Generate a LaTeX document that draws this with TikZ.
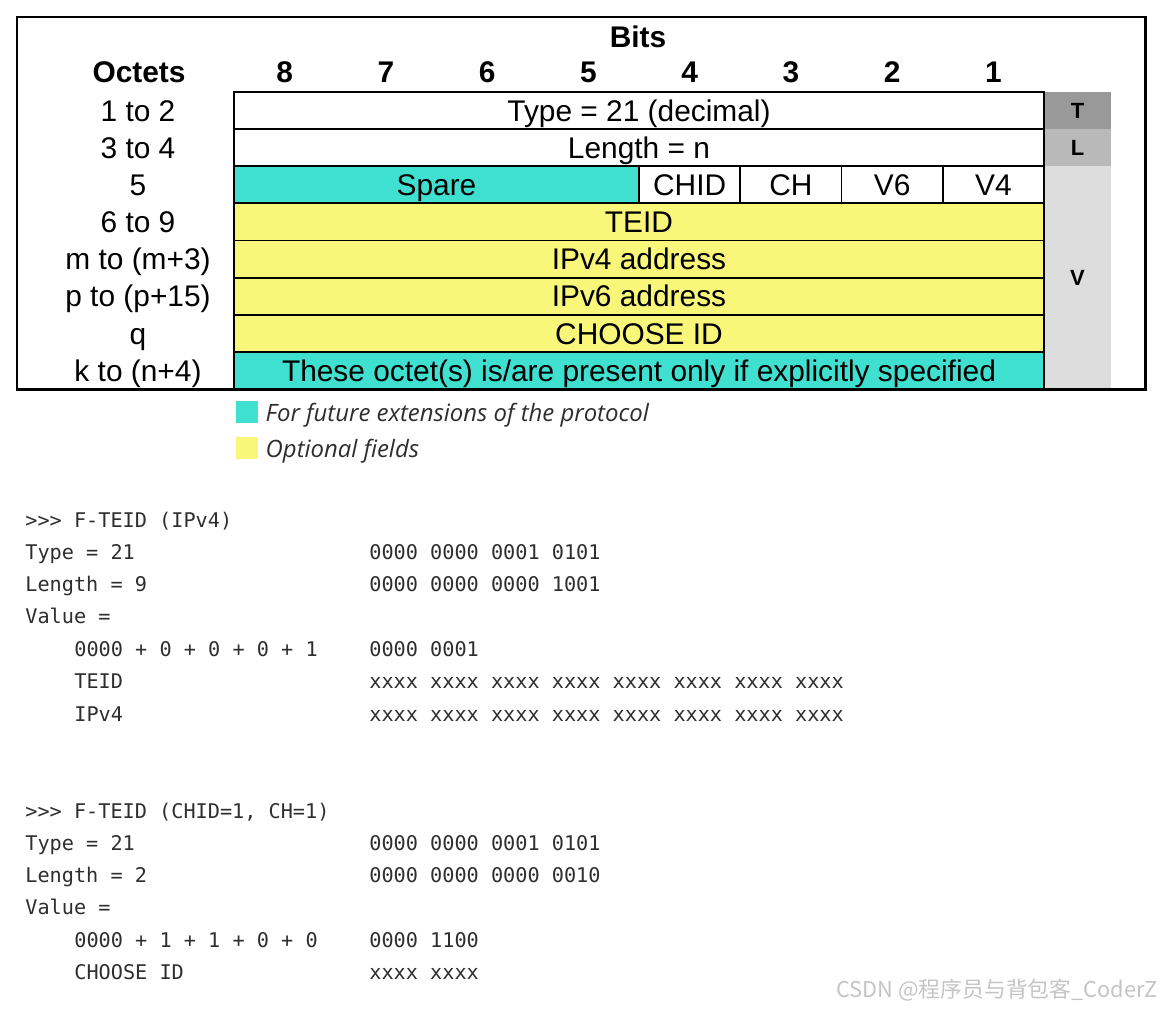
\documentclass[tikz,border=0pt]{standalone}
\usepackage{fontspec}
\setmainfont{Liberation Sans}
\setmonofont{DejaVu Sans Mono}
\newfontfamily\notefont{Open Sans}
\newfontfamily\cjkfont{Noto Sans CJK SC}
\usepackage{xcolor}
\definecolor{Spare}{HTML}{40E0D0}
\definecolor{Opt}{HTML}{F9F77A}
\definecolor{TagT}{HTML}{999999}
\definecolor{TagL}{HTML}{B9B9B9}
\definecolor{TagV}{HTML}{DDDDDD}
\definecolor{Code}{HTML}{2E2E2E}
\definecolor{Mark}{HTML}{C4C4C4}
\usetikzlibrary{positioning}
\tikzset{
  field/.style={draw,line width=1.1pt,minimum height=7.425mm,inner sep=0pt,outer sep=0pt,
    font=\fontsize{17}{20}\selectfont,text height=12.2pt,text depth=0pt},
  wide/.style={field,minimum width=162mm},
  bitcell/.style={field,minimum width=20.25mm},
  head/.style={font=\fontsize{17}{20}\selectfont\bfseries,inner sep=0pt,text height=12.2pt,text depth=0pt},
  octet/.style={font=\fontsize{17}{20}\selectfont,inner sep=0pt,text height=12.2pt,text depth=0pt},
  tag/.style={minimum width=13.4mm,minimum height=7.425mm,inner sep=0pt,font=\fontsize{12.5}{14}\selectfont\bfseries},
  swatch/.style={minimum size=4.4mm,inner sep=0pt},
  legend/.style={font=\notefont\itshape\fontsize{13.6}{16}\selectfont,text=Code,inner sep=0pt,yshift=-0.7mm},
  code/.style={font=\ttfamily\fontsize{11.5}{14}\selectfont,text=Code,inner sep=0pt,anchor=base west}
}
\begin{document}
\begin{tikzpicture}
  \useasboundingbox (0,0) rectangle (23.24,-20.2);
  \node[head] (bits) at (12.76,-0.74) {Bits};
  \node[head] (octets) at (2.78,-1.44) {Octets};
  \foreach \b [count=\k from 0] in {8,7,...,1}
    \node[head] (bit\b) at ({4.68+2.025*(\k+0.5)},-1.44) {\b};
  \foreach \lab [count=\i from 0] in {{1 to 2},{3 to 4},{5},{6 to 9},{m to (m+3)},{p to (p+15)},{q},{k to (n+4)}}
    \node[octet] (oct\i) at (2.76,{-1.84-0.7425*(\i+0.5)}) {\lab};
  \node[tag, fill=TagT] (tagT) at (21.55,-2.211) {T};
  \node[tag, fill=TagL] (tagL) at (21.55,-2.954) {L};
  \node[tag, fill=TagV, minimum height=44.55mm] (tagV) at (21.55,-5.5525) {V};
  \node[wide] (type) at (12.78,-2.211) {Type = 21 (decimal)};
  \node[wide, below=0pt of type] (length) {Length = n};
  \node[field, fill=Spare, minimum width=81mm, below=0pt of length.south west, anchor=north west] (spare) {Spare};
  \node[bitcell, right=0pt of spare] (chid) {CHID};
  \node[bitcell, right=0pt of chid] (ch) {CH};
  \node[bitcell, right=0pt of ch] (vsix) {V6};
  \node[bitcell, right=0pt of vsix] (vfour) {V4};
  \node[wide, fill=Opt, below=0pt of spare.south west, anchor=north west] (teid) {TEID};
  \node[wide, fill=Opt, below=0pt of teid] (ipv4) {IPv4 address};
  \node[wide, fill=Opt, below=0pt of ipv4] (ipv6) {IPv6 address};
  \node[wide, fill=Opt, below=0pt of ipv6] (choose) {CHOOSE ID};
  \node[wide, fill=Spare, below=0pt of choose] (present) {These octet(s) is/are present only if explicitly specified};
  \draw[line width=1.7pt] (0.34,-0.34) rectangle (22.9,-7.78);
  \node[swatch, fill=Spare] (swspare) at (4.94,-8.24) {};
  \node[legend, right=1.4mm of swspare] (lgspare) {For future extensions of the protocol};
  \node[swatch, fill=Opt] (swopt) at (4.94,-8.96) {};
  \node[legend, right=1.4mm of swopt] (lgopt) {Optional fields};
  \node[code] (hdrA) at (0.5,-10.54) {>>> F-TEID (IPv4)};
  \node[code] (typeA) at (0.5,-11.18) {Type = 21};
  \node[code] (typeAbits) at (7.38,-11.18) {0000 0000 0001 0101};
  \node[code] (lenA) at (0.5,-11.82) {Length = 9};
  \node[code] (lenAbits) at (7.38,-11.82) {0000 0000 0000 1001};
  \node[code] (valA) at (0.5,-12.46) {Value =};
  \node[code] (flagA) at (1.48,-13.12) {0000 + 0 + 0 + 0 + 1};
  \node[code] (flagAbits) at (7.38,-13.12) {0000 0001};
  \node[code] (teidA) at (1.48,-13.76) {TEID};
  \node[code] (teidAbits) at (7.38,-13.76) {xxxx xxxx xxxx xxxx xxxx xxxx xxxx xxxx};
  \node[code] (ipA) at (1.48,-14.42) {IPv4};
  \node[code] (ipAbits) at (7.38,-14.42) {xxxx xxxx xxxx xxxx xxxx xxxx xxxx xxxx};
  \node[code] (hdrB) at (0.5,-16.36) {>>> F-TEID (CHID=1, CH=1)};
  \node[code] (typeB) at (0.5,-17.00) {Type = 21};
  \node[code] (typeBbits) at (7.38,-17.00) {0000 0000 0001 0101};
  \node[code] (lenB) at (0.5,-17.64) {Length = 2};
  \node[code] (lenBbits) at (7.38,-17.64) {0000 0000 0000 0010};
  \node[code] (valB) at (0.5,-18.28) {Value =};
  \node[code] (flagB) at (1.48,-18.94) {0000 + 1 + 1 + 0 + 0};
  \node[code] (flagBbits) at (7.38,-18.94) {0000 1100};
  \node[code] (chooseB) at (1.48,-19.58) {CHOOSE ID};
  \node[code] (chooseBbits) at (7.38,-19.58) {xxxx xxxx};
  \node[font=\cjkfont\fontsize{12.4}{15}\selectfont, text=Mark, anchor=east, inner sep=0pt] (mark) at (23.16,-19.8) {CSDN @程序员与背包客\_CoderZ};
\end{tikzpicture}
\end{document}
